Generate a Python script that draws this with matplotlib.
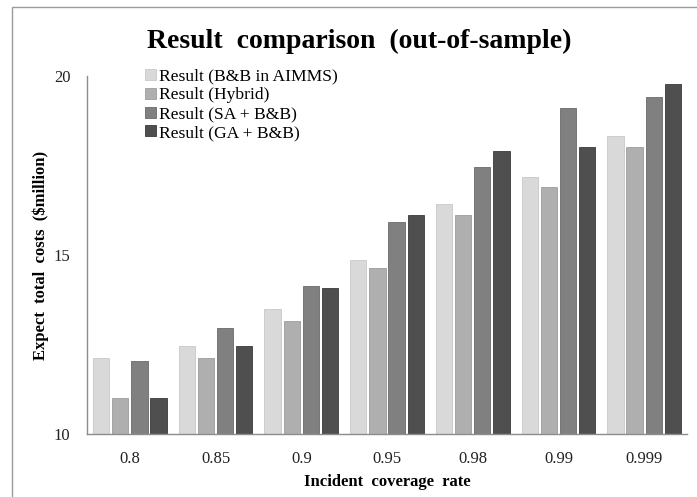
import numpy as np
import matplotlib
matplotlib.use("Agg")
import matplotlib.pyplot as plt
from matplotlib.patches import Rectangle

# Data
categories = ["0.8", "0.85", "0.9", "0.95", "0.98", "0.99", "0.999"]
series_names = ["Result (B&B in AIMMS)", "Result (Hybrid)",
                "Result (SA + B&B)", "Result (GA + B&B)"]
bb_aimms = [12.11, 12.46, 13.49, 14.85, 16.42, 17.18, 18.32]
hybrid = [11.01, 12.11, 13.17, 14.63, 16.11, 16.91, 18.01]
sa_bb = [12.04, 12.96, 14.13, 15.91, 17.45, 19.12, 19.42]
ga_bb = [11.01, 12.46, 14.09, 16.11, 17.90, 18.02, 19.78]
y_ticks = [10, 15, 20]

series = [bb_aimms, hybrid, sa_bb, ga_bb]
colors = ["#d9d9d9", "#afafaf", "#808080", "#4f4f4f"]
edges = ["#c8c8c8", "#9c9c9c", "#6a6a6a", "#3a3a3a"]

plt.rcParams["font.family"] = ["Liberation Serif", "DejaVu Serif"]

W, H = 697, 497
fig = plt.figure(figsize=(W / 100, H / 100), dpi=100)
ax = fig.add_axes([87 / W, 1 - 434 / H, 600 / W, (434 - 76) / H])

x = np.arange(len(categories))
step = 0.223
width = 0.19
for i, (vals, c, ec, name) in enumerate(zip(series, colors, edges, series_names)):
    offs = (i - 1.5) * step
    ax.bar(x + offs, np.array(vals) - 10, bottom=10, width=width,
           color=c, edgecolor=ec, linewidth=0.6, label=name, zorder=2)

ax.set_xlim(-0.5, len(categories) - 0.5)
ax.set_ylim(10, 20)
ax.set_yticks(y_ticks)
ax.set_yticklabels([str(t) for t in y_ticks])
ax.set_xticks(x)
ax.set_xticklabels(categories)
ax.tick_params(axis="both", length=0, labelsize=12, colors="#222222")
ax.tick_params(axis="y", pad=12)
ax.tick_params(axis="x", pad=12)

for s in ["top", "right"]:
    ax.spines[s].set_visible(False)
for s in ["left", "bottom"]:
    ax.spines[s].set_color("#8c8c8c")
    ax.spines[s].set_linewidth(1.0)

ax.set_xlabel("Incident  coverage  rate", fontsize=12, fontweight="bold",
              labelpad=5)
ax.set_ylabel("Expect  total  costs  ($million)", fontsize=12,
              fontweight="bold", labelpad=3)

leg = ax.legend(loc="upper left", bbox_to_anchor=(0.085, 1.04), frameon=False,
                fontsize=12.6, handlelength=0.6, handleheight=0.6,
                handletextpad=0.2, labelspacing=0.16, borderaxespad=0)

fig.text(359.5 / W, 1 - 48 / H, "Result  comparison  (out-of-sample)",
         ha="center", va="baseline", fontsize=20, fontweight="bold")

# Outer frame
fig.add_artist(Rectangle((12 / W, -0.1), 1.2, 1 - 7 / H + 0.1,
                         transform=fig.transFigure, fill=False,
                         edgecolor="#9a9a9a", linewidth=1.0))

fig.savefig("out.png", dpi=100)
